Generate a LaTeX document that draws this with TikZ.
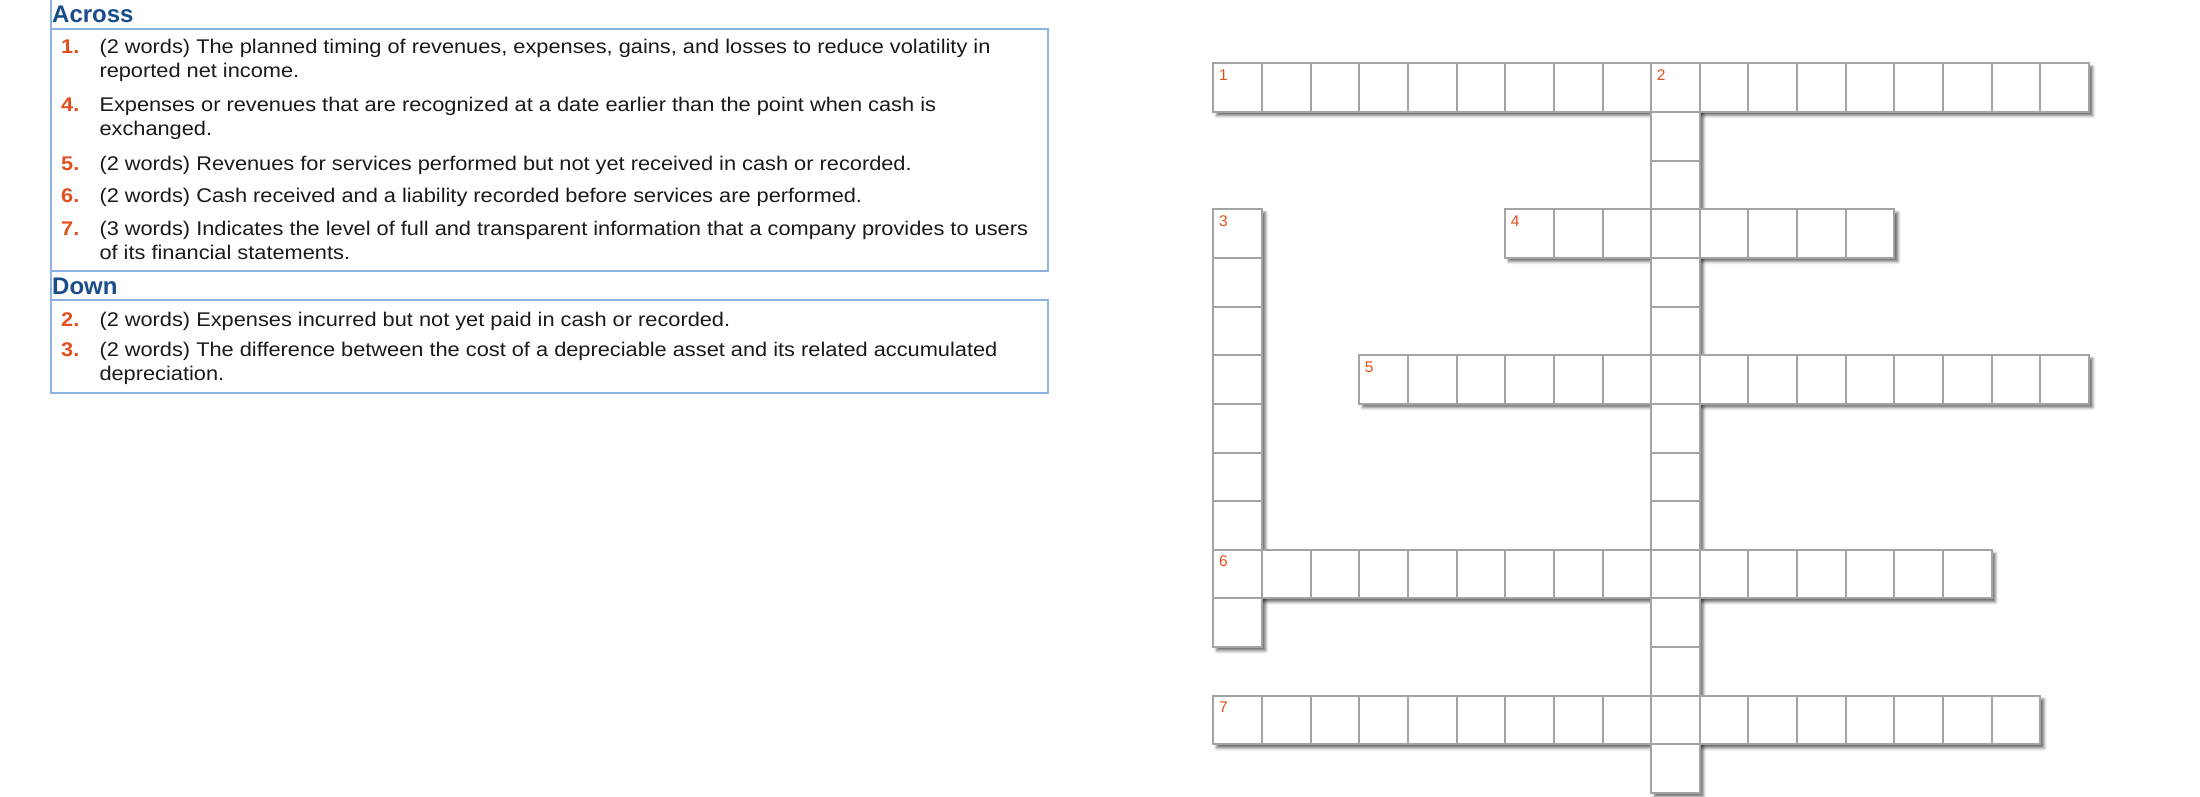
\documentclass[tikz,border=0pt]{standalone}
\usepackage{fontspec}
\setmainfont{Liberation Sans}
\newfontfamily\cluefont{Liberation Sans}[FakeStretch=1.1]
\usetikzlibrary{positioning,calc,shadows.blur}
\definecolor{cluered}{HTML}{E0501E}
\definecolor{headblue}{HTML}{1A4C8C}
\definecolor{boxblue}{HTML}{8DB3E2}
\definecolor{cellgray}{HTML}{A3A3A3}
\tikzstyle{heading} = [anchor=base west, inner sep=0pt, text=headblue, font=\fontsize{24}{28}\selectfont\bfseries]
\tikzstyle{cluenum} = [anchor=base west, inner sep=0pt, text=cluered, font=\cluefont\fontsize{19.8}{24}\selectfont\bfseries]
\tikzstyle{cluetext} = [anchor=base west, inner sep=0pt, align=left, text=black!90, font=\cluefont\fontsize{19.8}{24}\selectfont]
\tikzstyle{cluebox} = [draw=boxblue, line width=2pt]
\tikzstyle{cell} = [draw=cellgray, line width=2pt, fill=white, minimum size=48.65pt, inner sep=0pt]
\tikzstyle{cellnum} = [anchor=north west, inner sep=0pt, text=cluered, font=\fontsize{15.5}{18}\selectfont]
\tikzset{wordshadow/.style={blur shadow={shadow xshift=3.5pt, shadow yshift=-3.5pt, shadow blur radius=3pt, shadow opacity=60}}}

\begin{document}
\begin{tikzpicture}[x=1pt,y=-1pt]
  \useasboundingbox (0,0) rectangle (2200,797);

  % clue lists (two-line clues sit on the baseline of their last line)
  \draw [cluebox] (50.7,0) -- (50.7,29.3) rectangle (1048,271);
  \draw [cluebox] (50.7,271) -- (50.7,300) rectangle (1048,393);
  \node [heading] (across) at (52,22.7) {Across};
  \node [heading] (down) at (52,294) {Down};

  \node [cluenum] (n1) at (61,54) {1.};
  \node [cluetext] (c1) at (99.3,78) {(2 words) The planned timing of revenues, expenses, gains, and losses to reduce volatility in\\reported net income.};
  \node [cluenum] (n4) at (61,111.7) {4.};
  \node [cluetext] (c4) at (99.3,135.7) {Expenses or revenues that are recognized at a date earlier than the point when cash is\\exchanged.};
  \node [cluenum] (n5) at (61,170) {5.};
  \node [cluetext] (c5) at (99.3,170) {(2 words) Revenues for services performed but not yet received in cash or recorded.};
  \node [cluenum] (n6) at (61,202.5) {6.};
  \node [cluetext] (c6) at (99.3,202.5) {(2 words) Cash received and a liability recorded before services are performed.};
  \node [cluenum] (n7) at (61,235) {7.};
  \node [cluetext] (c7) at (99.3,259) {(3 words) Indicates the level of full and transparent information that a company provides to users\\of its financial statements.};

  \node [cluenum] (n2) at (61,326) {2.};
  \node [cluetext] (c2) at (99.3,326) {(2 words) Expenses incurred but not yet paid in cash or recorded.};
  \node [cluenum] (n3) at (61,356.7) {3.};
  \node [cluetext] (c3) at (99.3,380.7) {(2 words) The difference between the cost of a depreciable asset and its related accumulated\\depreciation.};

  % grid: col/row/length/dx/dy/number
  \def\gx{1213.3} \def\gy{63.3} \def\gs{48.65}
  \def\words{0/0/18/1/0/1, 9/0/15/0/1/2, 0/3/9/0/1/3, 6/3/8/1/0/4, 3/6/15/1/0/5, 0/10/16/1/0/6, 0/13/17/1/0/7}
  \foreach \c/\r/\n/\dx/\dy/\k in \words {
    \pgfmathsetmacro\w{\gs*(\dx*(\n-1)+1)}
    \pgfmathsetmacro\h{\gs*(\dy*(\n-1)+1)}
    \path [wordshadow] (\gx+\c*\gs,\gy+\r*\gs) rectangle ++(\w,\h);
  }
  \foreach \c/\r/\n/\dx/\dy/\k in \words {
    \foreach \i in {1,...,\n} {
      \node [cell] (w\k-\i) at ({\gx+(\c+(\i-1)*\dx+0.5)*\gs},{\gy+(\r+(\i-1)*\dy+0.5)*\gs}) {};
    }
  }
  \foreach \c/\r/\n/\dx/\dy/\k in \words {
    \node [cellnum] (num\k) at ({\gx+\c*\gs+5.5},{\gy+\r*\gs+6}) {\k};
  }
\end{tikzpicture}
\end{document}
